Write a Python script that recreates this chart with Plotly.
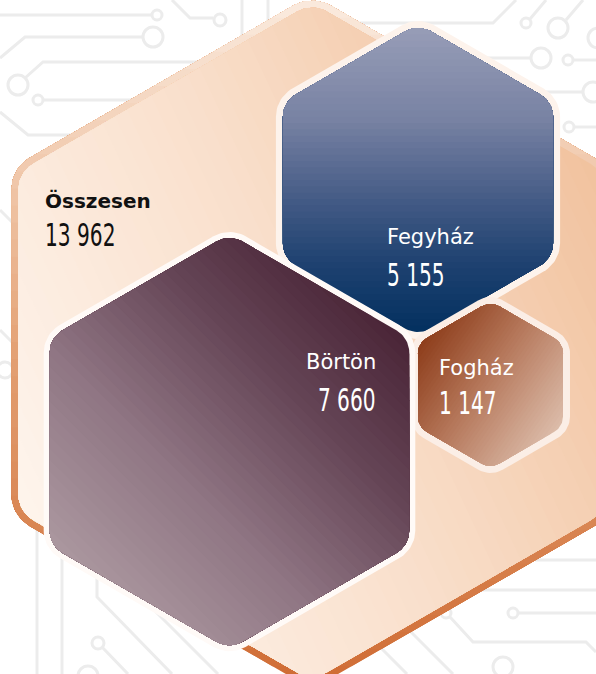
import numpy as np
import plotly.graph_objects as go

# ---------------- data ----------------
CATEGORIES = ["Összesen", "Fegyház", "Börtön", "Fogház"]
VALUES = [13962, 5155, 7660, 1147]

# ---------------- layout (pixel geometry / styles) ----------------
W, H = 596, 674
CENTERS = [(312, 342), (418, 180), (229.5, 441.6), (490.5, 385)]
RADII = [339, 156, 207.6, 83.7]          # circumradius of filled hexagon
CORNERS = [30, 26, 26, 18]               # corner rounding
RIMS = [7, 7, 6, 7]                      # border width
RIM_COLORS = [None, "#fdf3ec", "#fffaf7", "#fbeee6"]
GRAD_ANGLE = [-25, 90, -45, 35]          # gradient direction (deg, y down)
GRAD_STOPS = [
    [(0, "#fef4ec"), (0.5, "#f9dfcb"), (1, "#f1c29e")],
    [(0, "#979db7"), (0.3, "#7882a3"), (0.57, "#435a85"), (0.77, "#1f4271"), (1, "#03305f")],
    [(0, "#ab979f"), (0.35, "#8f7583"), (0.7, "#654556"), (1, "#4a2537")],
    [(0, "#8e3e1c"), (0.45, "#b5775a"), (1, "#dcbca9")],
]
BIG_BORDER_STOPS = [(0, "#fbebdf"), (0.27, "#f0c6a8"), (0.52, "#e3a073"), (1, "#d06c34")]

LABEL_FONT = "DejaVu Sans, Roboto, sans-serif"
VALUE_FONT = "DejaVu Sans, sans-serif"
VALUE_SIZE = 32
VALUE_SQUEEZE = 0.63
TEXT_LABEL = [dict(x=43, y=208, anchor="left", color="#111111", size=20, bold=True),
              dict(x=385, y=245, anchor="left", color="white", size=21, bold=False),
              dict(x=378, y=370, anchor="right", color="white", size=21, bold=False),
              dict(x=437, y=376, anchor="left", color="white", size=21, bold=False)]
TEXT_VALUE = [dict(x=43, y=247, color="#111111"), dict(x=385, y=287, color="white"),
              dict(x=378, y=412, color="white"), dict(x=437, y=415, color="white")]

DECO_LINES = [
    [(0, 15), (151, 15)], [(172, 0), (190, 18), (213, 18)],
    [(0, 58), (25, 37), (143, 37)], [(25, 78), (43, 62), (300, 62)],
    [(44, 100), (200, 100)], [(0, 112), (28, 135), (160, 135)],
    [(242, 0), (242, 45)], [(268, 0), (268, 30)],
    [(359, 23), (493, 23), (516, 0)], [(530, 19), (546, 0)],
    [(566, 20), (583, 0)], [(483, 58), (531, 58)], [(573, 60), (596, 60)],
    [(499, 92), (583, 92)], [(574, 127), (596, 127)],
    [(0, 210), (12, 222)], [(0, 330), (12, 342)],
    [(37, 525), (37, 674)], [(62, 550), (62, 674)],
    [(97, 573), (97, 597), (172, 674)], [(102, 647), (128, 674)],
    [(147, 603), (218, 674)],
    [(583, 522), (596, 522)], [(526, 550), (536, 560), (596, 560)],
    [(473, 590), (596, 590)], [(450, 617), (473, 642), (586, 642), (596, 652)],
    [(518, 613), (596, 613)], [(373, 640), (407, 674)], [(406, 627), (453, 674)],
]
DECO_CIRCLES = [(157, 15, 5), (220, 20, 6), (153, 37, 10), (18, 85, 10), (38, 100, 5),
                (526, 23, 5), (558, 28, 10), (598, 38, 10), (541, 58, 10), (568, 60, 5),
                (593, 92, 10), (569, 127, 5), (5, 370, 8),
                (98, 643, 6), (88, 676, 10), (446, 613, 5), (513, 613, 5), (503, 667, 10)]
DECO_COLOR = "#ececec"


def rounded_hex(cx, cy, R, r, n=14):
    Rp = R - 2 * r / np.sqrt(3)
    pts = []
    for k in range(6):
        th = np.deg2rad(-90 + 60 * k)
        vx, vy = cx + Rp * np.cos(th), cy + Rp * np.sin(th)
        for ph in np.linspace(th - np.pi / 6, th + np.pi / 6, n):
            pts.append((vx + r * np.cos(ph), vy + r * np.sin(ph)))
    return np.array(pts)


def clip_half(poly, u, t):
    out = []
    n = len(poly)
    for i in range(n):
        P, Q = poly[i], poly[(i + 1) % n]
        dp, dq = P @ u - t, Q @ u - t
        if dp <= 0:
            out.append(P)
        if dp * dq < 0:
            s = dp / (dp - dq)
            out.append(P + s * (Q - P))
    return np.array(out)


def hex2rgb(h):
    h = h.lstrip("#")
    return np.array([int(h[i:i + 2], 16) for i in (0, 2, 4)], float)


def interp_color(stops, f):
    for (a, ca), (b, cb) in zip(stops[:-1], stops[1:]):
        if f <= b:
            t = (f - a) / (b - a) if b > a else 0
            c = hex2rgb(ca) * (1 - t) + hex2rgb(cb) * t
            return "rgb(%d,%d,%d)" % tuple(np.round(c))
    c = hex2rgb(stops[-1][1])
    return "rgb(%d,%d,%d)" % tuple(c)


def poly_trace(poly, color):
    xs = list(poly[:, 0]) + [poly[0, 0]]
    ys = list(poly[:, 1]) + [poly[0, 1]]
    return go.Scatter(x=xs, y=ys, fill="toself", fillcolor=color, mode="lines",
                      line=dict(width=0, color=color), hoverinfo="skip", showlegend=False)


def grad_traces(poly, angle, stops, n=48):
    a = np.deg2rad(angle)
    u = np.array([np.cos(a), np.sin(a)])
    proj = poly @ u
    lo, hi = proj.min(), proj.max()
    out = []
    for i in range(n, 0, -1):
        sub = poly if i == n else clip_half(poly, u, lo + (hi - lo) * i / n)
        if len(sub) < 3:
            continue
        out.append(poly_trace(sub, interp_color(stops, (i - 0.5) / n)))
    return out


fig = go.Figure()

# decorative circuit background
shapes = []
for pl in DECO_LINES:
    path = "M " + " L ".join("%g,%g" % p for p in pl)
    shapes.append(dict(type="path", path=path, line=dict(color=DECO_COLOR, width=3),
                       layer="below", xref="x", yref="y"))
for (x, y, r) in DECO_CIRCLES:
    shapes.append(dict(type="circle", x0=x - r, x1=x + r, y0=y - r, y1=y + r,
                       line=dict(color=DECO_COLOR, width=3), fillcolor="white",
                       layer="below", xref="x", yref="y"))

# draw order: total, Fegyház, Fogház, Börtön
order = [0, 1, 3, 2]
for i in order:
    cx, cy = CENTERS[i]
    R, r, w = RADII[i], CORNERS[i], RIMS[i]
    outer = rounded_hex(cx, cy, R + 2 * w / np.sqrt(3), r + w)
    if i == 0:
        for t in grad_traces(outer, 90, BIG_BORDER_STOPS, n=40):
            fig.add_trace(t)
    else:
        fig.add_trace(poly_trace(outer, RIM_COLORS[i]))
    inner = rounded_hex(cx, cy, R, r)
    for t in grad_traces(inner, GRAD_ANGLE[i], GRAD_STOPS[i]):
        fig.add_trace(t)

annotations = []
right_value_idx = []
for i, cat in enumerate(CATEGORIES):
    lab = TEXT_LABEL[i]
    txt = "<b>%s</b>" % cat if lab["bold"] else cat
    annotations.append(dict(
        x=lab["x"], y=lab["y"] - 0.36 * lab["size"], xref="x", yref="y", text=txt,
        showarrow=False, xanchor=lab["anchor"], yanchor="middle",
        font=dict(family=LABEL_FONT, size=lab["size"], color=lab["color"])))
    val = TEXT_VALUE[i]
    if lab["anchor"] == "right":
        right_value_idx.append(len(annotations))
    annotations.append(dict(
        x=val["x"], y=val["y"] - 0.36 * VALUE_SIZE, xref="x", yref="y",
        text="{:,}".format(VALUES[i]).replace(",", " "),
        showarrow=False, xanchor=lab["anchor"], yanchor="middle",
        font=dict(family=VALUE_FONT, size=VALUE_SIZE, color=val["color"], weight=400)))

fig.update_layout(
    width=W, height=H, margin=dict(l=0, r=0, t=0, b=0),
    paper_bgcolor="white", plot_bgcolor="white",
    xaxis=dict(range=[0, W], visible=False, fixedrange=True),
    yaxis=dict(range=[H, 0], visible=False, fixedrange=True),
    shapes=shapes, annotations=annotations, showlegend=False,
)

# condensed look for the numbers (horizontal squeeze of the real text elements)
post = """
document.body.style.margin='0px';
var gd = document.getElementById('{plot_id}');
var RIGHT = %s;
gd.querySelectorAll('g.annotation').forEach(function(g){
  var t = g.querySelector('text.annotation-text');
  if (!t || !/^[0-9\\s]+$/.test(t.textContent)) return;
  var b = t.getBBox();
  var idx = +g.getAttribute('data-index');
  var ax = (RIGHT.indexOf(idx) >= 0) ? b.x + b.width : b.x;
  var old = t.getAttribute('transform') || '';
  t.setAttribute('transform', old + ' translate(' + ax + ',0) scale(%g,1) translate(' + (-ax) + ',0)');
});
""" % (str(right_value_idx), VALUE_SQUEEZE)

fig.write_html("out.html", config=dict(displayModeBar=False), post_script=post)
